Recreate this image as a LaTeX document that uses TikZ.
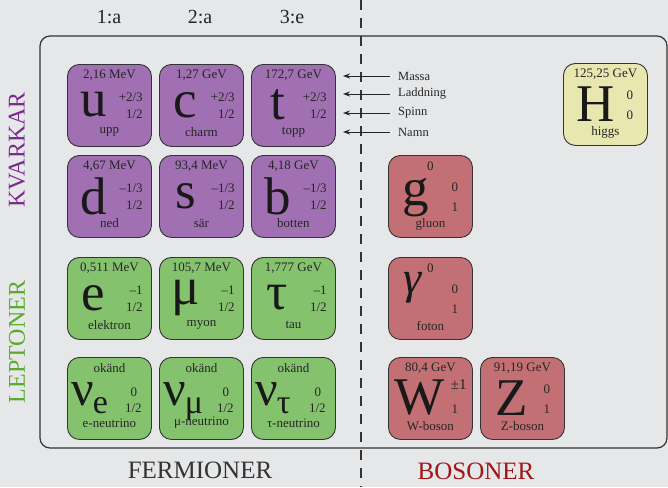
\documentclass[tikz,border=0pt]{standalone}
\usepackage{fontspec}
\setmainfont{Liberation Serif}
\usetikzlibrary{arrows.meta}
\definecolor{bgc}{HTML}{E6E7E9}
\definecolor{qcol}{HTML}{A070B3}
\definecolor{lcol}{HTML}{85C26E}
\definecolor{bcol}{HTML}{C27074}
\definecolor{hcol}{HTML}{E9E7B0}
\definecolor{edgec}{HTML}{333333}
\definecolor{kvc}{HTML}{7A2A8E}
\definecolor{lpc}{HTML}{5BAA2C}
\definecolor{boc}{HTML}{A01515}
\definecolor{fec}{HTML}{333333}
\tikzset{
  card/.style={draw=edgec, line width=0.9pt, rounded corners=12pt, minimum width=84pt, minimum height=82pt, inner sep=0pt},
  smalltxt/.style={inner sep=0pt, font=\fontsize{13}{15}\selectfont, text=black!85},
  bigsym/.style={inner sep=0pt, font=\fontsize{53}{53}\selectfont, text=black!90},
  toplbl/.style={inner sep=0pt, font=\fontsize{20}{22}\selectfont, text=black!85},
  sidelbl/.style={inner sep=0pt, font=\fontsize{24}{26}\selectfont, rotate=90},
  botlbl/.style={inner sep=0pt, font=\fontsize{25}{27}\selectfont},
  keylbl/.style={inner sep=0pt, font=\fontsize{12.5}{14}\selectfont, text=black!85, anchor=west},
  keyarrow/.style={-{Stealth[length=7pt,width=5pt]}, line width=1pt, draw=black!85}
}
\def\symy{-41pt}
\def\symx{-12pt}
% #1 name, #2 x, #3 y, #4 colour, #5 mass, #6 symbol, #7 charge, #8 spin, #9 label
\newcommand{\qcard}[9]{%
  \node[card, fill=#4, anchor=north west] (#1) at (#2,#3) {};
  \node[smalltxt] (#1-m) at ([yshift=-11pt]#1.north) {#5};
  \node[bigsym] (#1-s) at ([xshift=-16pt,yshift=\symy]#1.north) {#6};
  \node[smalltxt, anchor=east] (#1-q) at ([xshift=-9pt,yshift=-33pt]#1.north east) {#7};
  \node[smalltxt, anchor=east] (#1-j) at ([xshift=-9pt,yshift=-50pt]#1.north east) {#8};
  \node[smalltxt] (#1-n) at ([yshift=-68pt]#1.north) {#9};
}
\newcommand{\ncard}[5]{% name x y subscript label
  \node[card, fill=lcol, anchor=north west] (#1) at (#2,#3) {};
  \node[smalltxt] (#1-m) at ([yshift=-11pt]#1.north) {okänd};
  \node[bigsym, anchor=base west, font=\fontsize{50}{50}\selectfont] (#1-s) at ([xshift=4pt,yshift=-48pt]#1.north west) {ν\kern-1pt\raisebox{-8pt}{\fontsize{34}{34}\selectfont #4}};
  \node[smalltxt] (#1-q) at ([xshift=-18pt,yshift=-35pt]#1.north east) {0};
  \node[smalltxt, anchor=east] (#1-j) at ([xshift=-10pt,yshift=-51pt]#1.north east) {1/2};
  \node[smalltxt] (#1-n) at ([yshift=-66pt]#1.north) {#5};
}
\newcommand{\bcard}[9]{% name x y colour mass symbol charge spin label
  \node[card, fill=#4, anchor=north west] (#1) at (#2,#3) {};
  \node[smalltxt] (#1-m) at ([yshift=-11pt]#1.north) {#5};
  \node[bigsym] (#1-s) at ([xshift=\symx,yshift=\symy]#1.north) {#6};
  \node[smalltxt] (#1-q) at ([xshift=-18pt,yshift=-32pt]#1.north east) {#7};
  \node[smalltxt] (#1-j) at ([xshift=-18pt,yshift=-52pt]#1.north east) {#8};
  \node[smalltxt] (#1-n) at ([yshift=-69pt]#1.north) {#9};
}
\begin{document}
\begin{tikzpicture}[x=1pt,y=-1pt]
\fill[bgc] (0,0) rectangle (668,487);
\useasboundingbox (0,0) rectangle (668,487);
% frame
\draw[edgec, line width=1.2pt, rounded corners=10pt] (40,36) rectangle (667,448);
% dashed divider
\draw[edgec, line width=1.2pt, dash pattern=on 10pt off 8pt] (361,0) -- (361,487);
% column labels
\node[toplbl] (g1) at (109,17) {1:a};
\node[toplbl] (g2) at (200,17) {2:a};
\node[toplbl] (g3) at (292,17) {3:e};
% side labels
\node[sidelbl, text=kvc] (kv) at (17,150) {KVARKAR};
\node[sidelbl, text=lpc] (lp) at (17,342) {LEPTONER};
% bottom labels
\node[botlbl, text=fec] (fe) at (200,470) {FERMIONER};
\node[botlbl, text=boc] (bo) at (476,471) {BOSONER};
% quarks
\qcard{u}{67}{64}{qcol}{2,16 MeV}{u}{+2/3}{1/2}{upp}
\qcard{c}{159}{64}{qcol}{1,27 GeV}{c}{+2/3}{1/2}{charm}
\qcard{t}{251}{64}{qcol}{172,7 GeV}{t}{+2/3}{1/2}{topp}
\qcard{d}{67}{155}{qcol}{4,67 MeV}{d}{–1/3}{1/2}{ned}
\qcard{s}{159}{155}{qcol}{93,4 MeV}{s}{–1/3}{1/2}{sär}
\qcard{b}{251}{155}{qcol}{4,18 GeV}{b}{–1/3}{1/2}{botten}
% leptons
\qcard{e}{67}{257}{lcol}{0,511 MeV}{e}{–1}{1/2}{elektron}
\qcard{mu}{159}{257}{lcol}{105,7 MeV}{μ}{–1}{1/2}{myon}
\qcard{tau}{251}{257}{lcol}{1,777 GeV}{τ}{–1}{1/2}{tau}
\ncard{ne}{67}{357}{e}{e-neutrino}
\ncard{nm}{159}{357}{μ}{μ-neutrino}
\ncard{nt}{251}{357}{τ}{τ-neutrino}
% bosons
\def\symy{-43pt}
\def\symx{-15pt}
\bcard{gl}{388}{155}{bcol}{0}{g}{0}{1}{gluon}
\def\symy{-31pt}
\def\symx{-17pt}
\bcard{ga}{388}{257}{bcol}{0}{\fontsize{46}{46}\selectfont\textit{γ}}{0}{1}{foton}
\def\symy{-41pt}
\def\symx{-11pt}
\bcard{W}{388}{357}{bcol}{80,4 GeV}{W}{}{1}{W-boson}
\node[smalltxt, anchor=east] (W-q2) at ([xshift=-6pt,yshift=-28pt]W.north east) {\fontsize{15}{15}\selectfont±1};
\bcard{Z}{480}{357}{bcol}{91,19 GeV}{Z}{0}{1}{Z-boson}
\def\symx{-10pt}
\bcard{H}{563}{63}{hcol}{125,25 GeV}{H}{0}{0}{higgs}
% key
\node[keylbl] (k1) at (398,76) {Massa};
\node[keylbl] (k2) at (398,94) {Laddning};
\node[keylbl] (k3) at (398,113) {Spinn};
\node[keylbl] (k4) at (398,132) {Namn};
\coordinate (a1) at (343,76);
\coordinate (a2) at (343,94);
\coordinate (a3) at (343,113);
\coordinate (a4) at (343,132);
\draw[keyarrow] ([xshift=-8pt]k1.west) -- (a1);
\draw[keyarrow] ([xshift=-8pt]k2.west) -- (a2);
\draw[keyarrow] ([xshift=-8pt]k3.west) -- (a3);
\draw[keyarrow] ([xshift=-8pt]k4.west) -- (a4);
\end{tikzpicture}
\end{document}
